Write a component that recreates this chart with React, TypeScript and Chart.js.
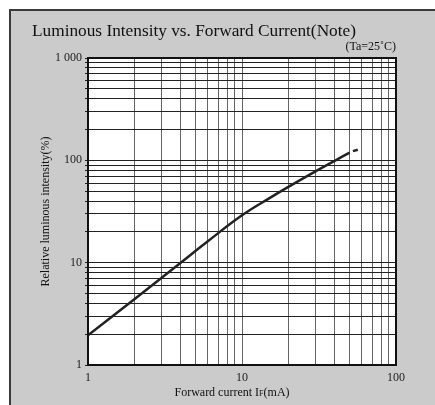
import React, { useEffect, useRef } from "react";
import { Chart, registerables } from "chart.js";

Chart.register(...registerables);

const chartTitle = "Luminous Intensity vs. Forward Current(Note)";
const conditionNote = "(Ta=25˚C)";
const yAxisTitle = "Relative luminous intensity(%)";
const xAxisTitleMain = "Forward current I";
const xAxisTitleSub = "F";
const xAxisTitleUnit = "(mA)";

const currentMA = [1, 2, 4, 6, 10, 15, 20, 30, 40, 50];
const intensityPct = [1.95, 4.4, 10, 16.2, 29, 42.5, 55, 78, 99, 119];
const extCurrentMA = [52.5, 56.5];
const extIntensityPct = [123, 127];

const xGridValues = [1, 2, 3, 4, 5, 6, 7, 8, 9, 10, 20, 30, 40, 50, 60, 70, 80, 90, 100];
const yGridValues = [1, 2, 3, 4, 5, 6, 7, 8, 9, 10, 20, 30, 40, 50, 60, 70, 80, 90, 100, 200, 300, 400, 500, 600, 700, 800, 900, 1000];
const xTickLabels: Record<number, string> = { 1: "1", 10: "10", 100: "100" };
const yTickLabels: Record<number, string> = { 1: "1", 10: "10", 100: "100", 1000: "1 000" };

const SERIF = "'Liberation Serif', 'Times New Roman', serif";

export default function App() {
  const ref = useRef<HTMLCanvasElement | null>(null);

  useEffect(() => {
    document.body.style.margin = "0";
    const canvas = ref.current;
    if (!canvas) return;

    const framePlugin = {
      id: "framePlugin",
      beforeDraw(chart: any) {
        const { ctx, chartArea } = chart;
        ctx.save();
        ctx.fillStyle = "#ffffff";
        ctx.fillRect(chartArea.left, chartArea.top, chartArea.right - chartArea.left, chartArea.bottom - chartArea.top);
        ctx.restore();
      },
      afterDatasetsDraw(chart: any) {
        const { ctx, chartArea } = chart;
        ctx.save();
        ctx.strokeStyle = "#111";
        ctx.lineWidth = 2;
        ctx.strokeRect(chartArea.left, chartArea.top, chartArea.right - chartArea.left, chartArea.bottom - chartArea.top);
        ctx.restore();
      },
      afterDraw(chart: any) {
        const { ctx, chartArea } = chart;
        ctx.save();
        ctx.fillStyle = "#111";
        ctx.textBaseline = "alphabetic";
        ctx.textAlign = "left";
        ctx.font = `17.3px ${SERIF}`;
        ctx.fillText(chartTitle, 32, 36);
        ctx.font = `12px ${SERIF}`;
        ctx.textAlign = "right";
        ctx.fillText(conditionNote, chartArea.right, 50);

        // y axis title
        ctx.save();
        ctx.translate(49, (chartArea.top + chartArea.bottom) / 2);
        ctx.rotate(-Math.PI / 2);
        ctx.textAlign = "center";
        ctx.font = `12px ${SERIF}`;
        ctx.fillText(yAxisTitle, 0, 0);
        ctx.restore();

        // x axis title with subscript
        ctx.font = `12px ${SERIF}`;
        const w1 = ctx.measureText(xAxisTitleMain).width;
        ctx.font = `8px ${SERIF}`;
        const w2 = ctx.measureText(xAxisTitleSub).width;
        ctx.font = `12px ${SERIF}`;
        const w3 = ctx.measureText(xAxisTitleUnit).width;
        const total = w1 + w2 + w3;
        let x = 232 - total / 2;
        const by = 396;
        ctx.textAlign = "left";
        ctx.fillText(xAxisTitleMain, x, by);
        x += w1;
        ctx.font = `8px ${SERIF}`;
        ctx.fillText(xAxisTitleSub, x, by);
        x += w2;
        ctx.font = `12px ${SERIF}`;
        ctx.fillText(xAxisTitleUnit, x, by);
        ctx.restore();
      },
    };

    const chart = new Chart(canvas, {
      type: "line",
      data: {
        datasets: [
          {
            data: currentMA.map((x, i) => ({ x, y: intensityPct[i] })),
            borderColor: "#222",
            borderWidth: 2.5,
            pointRadius: 0,
            tension: 0.4,
          },
          {
            data: extCurrentMA.map((x, i) => ({ x, y: extIntensityPct[i] })),
            borderColor: "#222",
            borderWidth: 2.5,
            pointRadius: 0,
          },
        ],
      },
      options: {
        animation: false,
        responsive: false,
        maintainAspectRatio: false,
        layout: { padding: { left: 0, top: 58, right: 39, bottom: 0 } },
        plugins: {
          legend: { display: false },
          tooltip: { enabled: false },
          title: { display: false },
        },
        scales: {
          x: {
            type: "logarithmic",
            min: 1,
            max: 100,
            afterBuildTicks: (scale: any) => {
              scale.ticks = xGridValues.map((v) => ({ value: v }));
            },
            afterFit: (scale: any) => {
              scale.height = 40;
            },
            ticks: {
              autoSkip: false,
              maxRotation: 0,
              padding: 6,
              color: "#222",
              font: { family: SERIF, size: 12 },
              callback: (v: any) => xTickLabels[Number(v)] ?? "",
            },
            grid: {
              color: "#666",
              lineWidth: 1,
              drawTicks: false,
            },
            border: { display: false },
          },
          y: {
            type: "logarithmic",
            min: 1,
            max: 1000,
            afterBuildTicks: (scale: any) => {
              scale.ticks = yGridValues.map((v) => ({ value: v }));
            },
            afterFit: (scale: any) => {
              scale.width = 88;
            },
            ticks: {
              autoSkip: false,
              padding: 3,
              color: "#222",
              font: { family: SERIF, size: 12 },
              callback: (v: any) => yTickLabels[Number(v)] ?? "",
            },
            grid: {
              color: "#222",
              lineWidth: 1,
              drawTicks: true,
              tickLength: 3,
            },
            border: { display: false },
          },
        },
      },
      plugins: [framePlugin],
    } as any);

    return () => chart.destroy();
  }, []);

  return (
    <div style={{ position: "relative", width: 435, height: 405, background: "#ffffff", overflow: "hidden" }}>
      <div
        style={{
          position: "absolute",
          left: 9,
          top: 9,
          width: 435,
          height: 405,
          background: "#cbcbcb",
          borderLeft: "2px solid #3a3a3a",
          borderTop: "2px solid #3a3a3a",
        }}
      />
      <canvas ref={ref} width={435} height={405} style={{ position: "absolute", left: 0, top: 0 }} />
    </div>
  );
}
